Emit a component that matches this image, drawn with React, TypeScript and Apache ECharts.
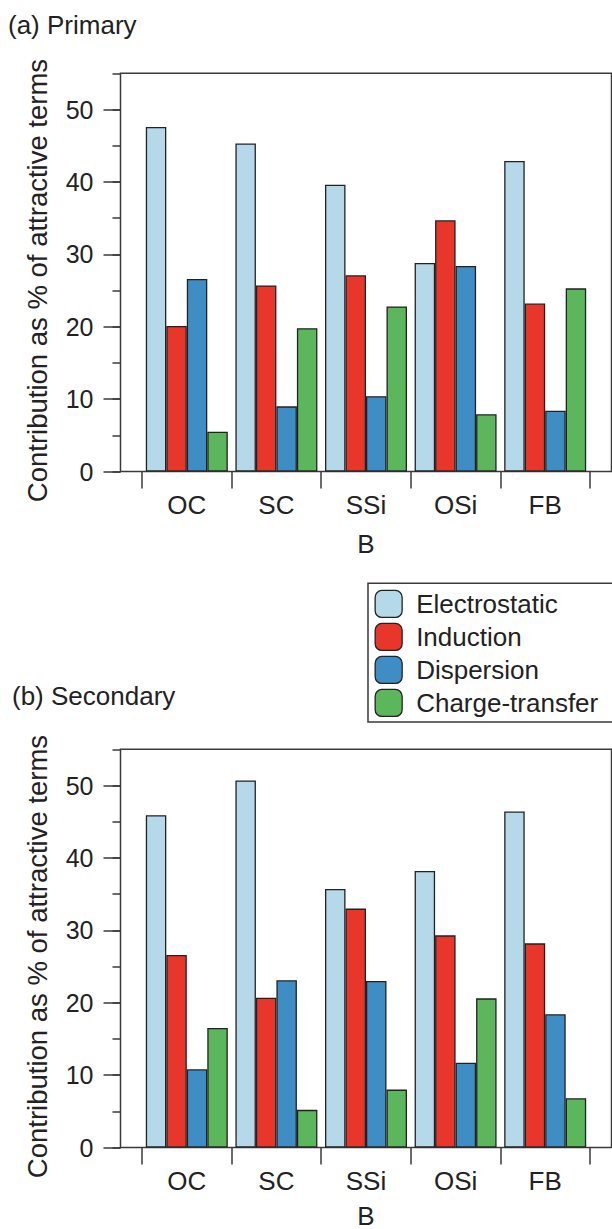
import React, { useEffect, useRef } from "react";
import * as echarts from "echarts";

const categories = ["OC", "SC", "SSi", "OSi", "FB"];
const seriesNames = ["Electrostatic", "Induction", "Dispersion", "Charge-transfer"];
const seriesColors = ["#b5d9e9", "#e8362b", "#3f8dc5", "#5cb65b"];

const primaryElectrostatic = [47.6, 45.3, 39.6, 28.8, 42.9];
const primaryInduction = [20.1, 25.7, 27.1, 34.7, 23.2];
const primaryDispersion = [26.6, 9.0, 10.4, 28.4, 8.4];
const primaryChargeTransfer = [5.5, 19.8, 22.8, 7.9, 25.3];

const secondaryElectrostatic = [45.9, 50.7, 35.7, 38.2, 46.4];
const secondaryInduction = [26.6, 20.7, 33.0, 29.3, 28.2];
const secondaryDispersion = [10.8, 23.1, 23.0, 11.7, 18.4];
const secondaryChargeTransfer = [16.5, 5.2, 8.0, 20.6, 6.8];

const majorTicks = [0, 10, 20, 30, 40, 50];
const yMin = 0;
const yMax = 55;

const panelTitles = ["(a) Primary", "(b) Secondary"];
const yAxisTitle = "Contribution as % of attractive terms";
const xAxisTitle = "B";

const FONT = "'Liberation Sans', Arial, Helvetica, sans-serif";
const INK = "#222";
const AXIS = "#3a3a3a";

export default function App() {
  const ref = useRef<HTMLDivElement>(null);

  useEffect(() => {
    document.body.style.margin = "0";
    if (!ref.current) return;
    const chart = echarts.init(ref.current, undefined, { renderer: "svg" });

    const panels = [
      { top: 73.3, nameGap: 59, data: [primaryElectrostatic, primaryInduction, primaryDispersion, primaryChargeTransfer] },
      { top: 749.3, nameGap: 55, data: [secondaryElectrostatic, secondaryInduction, secondaryDispersion, secondaryChargeTransfer] },
    ];
    const plotHeight = 398.2;
    const frameLeft = 120.5;
    const dataLeft = 142;
    const dataWidth = 448;

    const grid: any[] = [];
    const xAxis: any[] = [];
    const yAxis: any[] = [];
    const series: any[] = [];

    panels.forEach((p, pi) => {
      grid.push({
        left: dataLeft,
        top: p.top,
        width: dataWidth,
        height: plotHeight,
        containLabel: false,
        outerBoundsMode: "none",
      });
      grid.push({
        left: frameLeft,
        top: p.top,
        width: 611.5 - frameLeft,
        height: plotHeight,
        show: true,
        borderColor: AXIS,
        borderWidth: 1.5,
        backgroundColor: "transparent",
        containLabel: false,
        outerBoundsMode: "none",
        z: 1,
      });
      const gData = 2 * pi;
      const gFrame = 2 * pi + 1;

      xAxis.push({
        type: "category",
        gridIndex: gData,
        position: "bottom",
        data: categories,
        boundaryGap: true,
        axisLine: { show: false },
        axisTick: { show: true, length: 17, inside: false, alignWithLabel: false, lineStyle: { color: AXIS, width: 1.5 } },
        axisLabel: { fontSize: 26, color: INK, margin: 20, fontFamily: FONT },
        splitLine: { show: false },
        name: xAxisTitle,
        nameLocation: "middle",
        nameGap: p.nameGap,
        nameTextStyle: { fontSize: 26, color: INK, fontFamily: FONT },
      });
      xAxis.push({ type: "value", gridIndex: gFrame, show: false, min: 0, max: 1 });

      yAxis.push({
        type: "value",
        gridIndex: gData,
        position: "left",
        min: yMin,
        max: yMax,
        interval: 5,
        offset: dataLeft - frameLeft,
        axisLine: { show: false },
        axisTick: { show: true, length: 8, lineStyle: { color: AXIS, width: 1.5 } },
        axisLabel: { show: false },
        splitLine: { show: false },
      });
      yAxis.push({
        type: "value",
        gridIndex: gData,
        position: "left",
        min: yMin,
        max: yMax,
        interval: 10,
        offset: dataLeft - frameLeft,
        axisLine: { show: false },
        axisTick: { show: true, length: 17, customValues: majorTicks, lineStyle: { color: AXIS, width: 1.5 } },
        axisLabel: {
          show: true,
          customValues: majorTicks,
          fontSize: 25,
          color: INK,
          margin: 27,
          fontFamily: FONT,
          formatter: (v: number) => (majorTicks.indexOf(v) >= 0 ? String(v) : ""),
        },
        splitLine: { show: false },
      });
      yAxis.push({ type: "value", gridIndex: gFrame, show: false, min: 0, max: 1 });

      p.data.forEach((vals, si) => {
        series.push({
          type: "bar",
          name: seriesNames[si],
          xAxisIndex: 2 * pi,
          yAxisIndex: 3 * pi + 1,
          data: vals,
          barGap: "0%",
          barCategoryGap: "8.5%",
          itemStyle: { color: seriesColors[si], borderColor: INK, borderWidth: 1.3 },
          emphasis: { disabled: true },
          z: 3,
        });
      });
    });

    const graphic: any[] = [
      {
        type: "text",
        left: 8,
        top: 12,
        style: { text: panelTitles[0], fontSize: 26, fontFamily: FONT, fill: INK },
      },
      {
        type: "text",
        left: 12,
        top: 683,
        style: { text: panelTitles[1], fontSize: 26, fontFamily: FONT, fill: INK },
      },
      {
        type: "text",
        x: 37,
        y: 280.5,
        rotation: Math.PI / 2,
        style: { text: yAxisTitle, fontSize: 27.5, fontFamily: FONT, fill: INK, align: "center", verticalAlign: "middle" },
      },
      {
        type: "text",
        x: 37,
        y: 956.5,
        rotation: Math.PI / 2,
        style: { text: yAxisTitle, fontSize: 27.5, fontFamily: FONT, fill: INK, align: "center", verticalAlign: "middle" },
      },
    ];

    chart.setOption({
      animation: false,
      backgroundColor: "#ffffff",
      textStyle: { fontFamily: FONT, color: INK },
      legend: {
        show: true,
        data: seriesNames,
        orient: "vertical",
        left: 368,
        top: 583.3,
        padding: [6.5, 30, 5, 6.5],
        itemWidth: 27,
        itemHeight: 27,
        itemGap: 4.7,
        icon: "roundRect",
        borderColor: AXIS,
        borderWidth: 1.5,
        backgroundColor: "#ffffff",
        selectedMode: false,
        textStyle: { fontSize: 26, color: INK, fontFamily: FONT, padding: [0, 0, 0, 9] },
        itemStyle: { borderColor: INK, borderWidth: 1.3 },
      },
      grid,
      xAxis,
      yAxis,
      series,
      graphic,
    });

    return () => {
      chart.dispose();
    };
  }, []);

  return <div ref={ref} style={{ width: 612, height: 1229 }} />;
}
